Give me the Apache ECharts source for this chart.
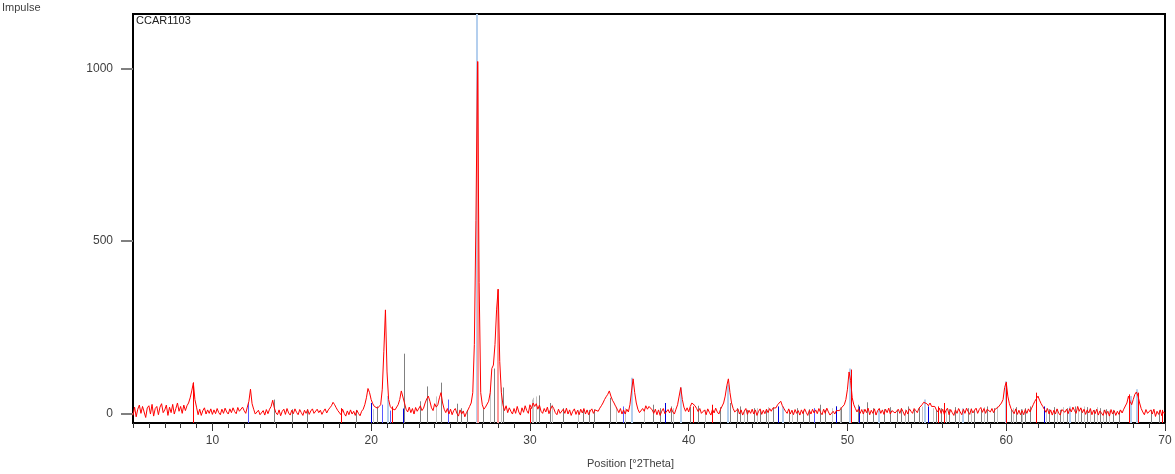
<!DOCTYPE html>
<html>
<head>
<meta charset="utf-8">
<script src="https://cdn.jsdelivr.net/npm/echarts@6/dist/echarts.min.js"></script>
<style>
html,body{margin:0;padding:0;background:#fff;}
#chart{width:1175px;height:474px;}
</style>
</head>
<body>
<div id="chart"></div>
<script>
// ---- data ----
const sampleName = 'CCAR1103';
const yAxisTitle = 'Impulse';
const xAxisTitle = 'Position [°2Theta]';
const xStart = 5.0;
const xStep = 0.1;
const xTickLabels = [10, 20, 30, 40, 50, 60, 70];
const yTickLabels = [0, 500, 1000];
// measured intensity, 5.0 .. 70.0 °2θ, step 0.1
const intensity = [
  -6, 18, -10, 12, 24, 0, 20, 4, -12, 16,
  22, -2, 26, -8, 14, 20, -4, 18, 28, 2,
  10, 24, -6, 18, 2, 26, -2, 14, 30, 6,
  20, 0, 24, 8, 22, 30, 45, 65, 88, 40,
  18, -4, 12, -6, 8, 16, -2, 10, 0, 13,
  -3, 10, -1, 14, 2, -4, 12, 0, 15, 4,
  -2, 13, 2, 16, 5, -1, 17, 6, 2, 18,
  8, 0, 18, 35, 70, 28, 12, -2, -4, 9,
  -4, -8, 8, -5, 11, -1, 12, 20, 38, 16,
  2, -4, 10, -7, 6, 12, -3, 14, 1, -5,
  9, -1, 13, 3, -4, 11, 2, -6, 9, 0,
  11, -3, 7, 13, 0, -5, 12, 2, 9, -3,
  6, 13, 1, 10, 16, 22, 32, 25, 16, 8,
  9, -4, 12, 0, -8, 7, -4, 10, -2, 6,
  -6, 9, 0, -7, 6, 12, 25, 45, 72, 60,
  40, 28, 20, 22, 15, 18, 25, 70, 180, 300,
  120, 40, 20, 14, 18, 10, 15, 25, 40, 65,
  65, 30, 12, 4, 18, 2, 14, -2, 17, 6,
  2, 22, 8, 15, 30, 42, 50, 35, 16, 8,
  28, 18, 25, 45, 60, 30, 12, 2, 14, -2,
  12, -4, 8, 14, 0, -8, 10, -2, 7, -10,
  2, 10, 20, 30, 60, 200, 560, 1020, 380, 60,
  25, 12, 18, 22, 35, 60, 130, 140, 200, 300,
  360, 150, 60, 25, 8, 22, 2, 16, 6, -2,
  14, 0, 20, 4, -5, 16, 3, 22, 8, 0,
  25, 14, 30, 20, 28, 12, 24, 6, 0, 14,
  4, 18, -1, 12, 22, 14, 2, -4, 12, 0,
  -4, 12, 0, 15, -2, 10, -6, 6, 13, -3,
  9, -4, 12, 1, 14, -2, 10, -4, 7, 13,
  0, 10, 12, 6, 15, 22, 30, 40, 48, 55,
  65, 50, 38, 30, 20, 12, 2, 14, -2, 10,
  -2, 12, 4, 25, 65, 100, 60, 30, 12, 2,
  0, 14, 6, 22, 12, 20, 25, 10, 0, 12,
  -4, 10, -6, 6, 14, -1, -5, 11, 1, 15,
  4, -2, 12, 25, 50, 75, 40, 18, 6, 16,
  4, 20, 30, 35, 22, 14, 5, 14, 0, -3,
  10, -4, 13, 3, -5, 12, 1, 15, 4, -2,
  11, 15, 30, 50, 80, 100, 60, 30, 14, 4,
  -1, 13, -2, 10, -5, 6, 14, -3, 9, 0,
  12, -2, 10, -6, 6, 13, -3, 9, -1, 12,
  2, 14, 6, 15, 20, 16, 25, 30, 35, 22,
  14, 6, 0, 13, -2, 9, -4, 11, 0, 8,
  -5, 10, -1, 13, 3, -6, 9, -2, 12, 1,
  10, -1, 14, 3, -4, 12, 0, 15, 4, -5,
  -6, 6, -2, 8, 12, 8, 15, 18, 25, 40,
  70, 120, 95, 45, 25, 14, 4, 13, 0, 11,
  -2, 12, 2, 15, -4, 9, 0, 13, -5, 8,
  14, 0, 10, -3, 12, 2, 15, -2, 8, 13,
  1, -4, 12, 0, 14, 5, -6, 9, -2, 13,
  6, 0, 14, 8, 2, 15, 20, 25, 32, 35,
  28, 22, 30, 20, 16, 20, 10, 4, 15, 0,
  12, -3, 8, 15, -4, 11, 2, -6, 10, 0,
  14, 4, -4, 12, 0, 15, 5, -3, 13, 1,
  9, 15, 0, 11, 17, 3, 14, 0, 12, 16,
  4, 14, 2, 12, 15, 18, 22, 30, 40, 75,
  90, 50, 28, 14, 6, -1, 13, -3, 9, -4,
  8, -4, 11, 0, 13, 4, 15, 25, 35, 40,
  50, 38, 28, 20, 12, 3, 14, -2, 10, -5,
  9, -2, 13, 1, -5, 11, 16, 3, 12, -1,
  14, 4, 18, 8, 0, 20, 6, 16, 2, 12,
  -3, 10, 1, 14, -4, 9, -1, 12, -5, 7,
  3, -6, 10, -3, 6, -8, 11, -2, 8, -6,
  6, -3, 10, 1, 12, 15, 30, 50, 35, 25,
  40, 55, 62, 50, 30, 14, 4, -4, 11, 0,
  -5, 10, -2, 12, -9, 6, -3, 10, -7, 4,
  0
];
// reference patterns: [position °2θ, height]
const sticksGray = [
  [13.9,40],[15.04,12],[15.94,12],[19.05,10],[20.35,20],[22.07,173],[23.08,35],[23.54,78],[24.38,89],
  [25.43,28],[25.66,15],[26.06,10],[27.07,12],[27.75,130],[27.95,230],[28.33,75],[30.57,52],[31.27,30],
  [32.1,15],[33.36,10],[33.7,10],[34.05,12],[35.04,45],[37.77,25],[38.19,15],[38.87,20],[40.08,18],
  [40.6,22],[42.0,18],[42.63,30],[43.06,15],[43.23,20],[43.7,10],[44.1,15],[44.5,8],[44.9,12],[45.3,18],
  [46.3,10],[46.8,15],[47.2,8],[47.6,12],[48.27,25],[48.6,10],[49.3,20],[49.6,15],[50.68,25],[51.25,32],
  [51.6,15],[51.9,10],[52.3,12],[52.7,18],[53.1,10],[53.4,15],[53.8,20],[54.2,12],[54.5,18],[55.6,10],
  [55.9,15],[56.4,12],[56.8,18],[57.6,15],[58.0,10],[58.4,12],[58.8,20],[59.2,15],[60.3,10],[60.6,18],
  [60.9,12],[61.2,15],[61.5,20],[62.7,12],[63.0,18],[63.4,10],[63.8,15],[64.3,20],[64.7,12],[65.1,18],
  [65.5,10],[65.9,15],[66.3,12],[66.7,10],[67.1,8],[69.1,10],[69.6,8]
];
const sticksLightGray = [
  [20.1,12],[24.09,49],[27.5,74],[28.2,75],[30.1,40],[30.2,45],[30.37,49],[31.4,25],[33.0,10],[35.4,20],
  [36.0,15],[37.2,12],[39.0,15],[41.0,10],[43.5,10],[44.3,15],[45.0,18],[46.5,8],[47.9,12],[49.0,15],
  [49.5,18],[51.0,12],[52.0,15],[53.6,12],[54.7,20],[55.4,15],[56.2,10],[57.0,12],[57.8,15],[58.6,18],
  [59.4,20],[60.4,15],[61.0,12],[62.5,15],[63.2,12],[63.6,18],[64.5,15],[64.9,20],[65.3,12],[65.7,18],
  [66.1,10],[66.5,8]
];
const sticksLightBlue = [
  [21.04,50],[26.65,1200],[36.45,103],[39.5,75],[42.5,83],[45.92,20],[50.16,130],[52.0,12],[54.88,40],
  [57.3,15],[59.96,93],[64.0,20],[67.85,50],[68.25,70]
];
const sticksBlue = [[12.27,30],[20.7,25],[21.19,8],[24.82,40],[35.88,20],[47.9,15]];
const sticksDarkBlue = [[19.99,30],[22.03,14],[38.5,30],[45.64,20],[49.27,20],[50.74,20],[55.05,20],[62.4,20]];
const sticksRed = [
  [8.8,90],[18.09,15],[21.3,20],[29.98,15],[40.29,20],[41.45,25],[50.2,127],[55.72,20],[56.1,30],
  [60.0,90],[61.85,60],[67.73,55],[68.3,60],[69.8,10]
];
const sticksPink = [[26.72,1020],[27.97,360]];

// ---- chart ----
const Y_MIN = -28, Y_MAX = 1158, X_MIN = 5, X_MAX = 70;
const FONT = 'Liberation Sans, Arial, sans-serif';
const traceData = intensity.map((v, i) => [+(xStart + i * xStep).toFixed(2), v]);

function stickSeries(data, color, width, z) {
  return {
    type: 'custom',
    xAxisIndex: 0, yAxisIndex: 0,
    data: data,
    z: z,
    clip: true,
    silent: true,
    renderItem: function (params, api) {
      const top = api.coord([api.value(0), api.value(1)]);
      const bot = api.coord([api.value(0), Y_MIN]);
      const x = Math.round(top[0]) + (width % 2 ? 0.5 : 0);
      return {
        type: 'line',
        shape: { x1: x, y1: top[1], x2: x, y2: bot[1] },
        style: { stroke: color, lineWidth: width }
      };
    }
  };
}

const chart = echarts.init(document.getElementById('chart'), null, { renderer: 'canvas' });
chart.setOption({
  animation: false,
  backgroundColor: '#fff',
  grid: { left: 133, right: 10, top: 14, bottom: 51, show: true, borderColor: '#000', borderWidth: 2, backgroundColor: 'transparent' },
  xAxis: [
    {
      type: 'value', min: X_MIN, max: X_MAX, position: 'bottom',
      axisLine: { show: true, onZero: false, lineStyle: { color: '#000', width: 2 } },
      axisTick: { show: true, length: 8, customValues: xTickLabels, lineStyle: { color: '#333', width: 1 } },
      axisLabel: { show: true, customValues: xTickLabels, margin: 12, color: '#404040', fontSize: 12, fontFamily: FONT, formatter: v => String(v) },
      splitLine: { show: false }
    },
    {
      type: 'value', min: X_MIN, max: X_MAX, interval: 1, position: 'bottom',
      axisLine: { show: false, onZero: false },
      axisTick: { show: true, length: 5, lineStyle: { color: '#333', width: 1 } },
      axisLabel: { show: false },
      splitLine: { show: false }
    }
  ],
  yAxis: [{
    type: 'value', min: Y_MIN, max: Y_MAX,
    axisLine: { show: true, onZero: false, lineStyle: { color: '#000', width: 2 } },
    axisTick: { show: true, length: 12, customValues: yTickLabels, lineStyle: { color: '#808080', width: 2 } },
    axisLabel: { show: true, customValues: yTickLabels, margin: 20, color: '#404040', fontSize: 12, fontFamily: FONT, formatter: v => String(v) },
    splitLine: { show: false }
  }],
  graphic: [
    { type: 'text', left: 2, top: 2, style: { text: yAxisTitle, fill: '#404040', font: '11px ' + FONT } },
    { type: 'text', left: 136, top: 15, z: 100, style: { text: sampleName, fill: '#202020', font: '11px ' + FONT } },
    { type: 'text', left: 587, top: 458, style: { text: xAxisTitle, fill: '#404040', font: '11px ' + FONT } }
  ],
  series: [
    stickSeries(sticksLightGray, '#c4c4c4', 1, 2),
    stickSeries(sticksGray, '#808080', 1, 3),
    stickSeries(sticksLightBlue, '#b4cfee', 2, 4),
    stickSeries(sticksPink, '#ff9a9a', 2, 4),
    stickSeries(sticksBlue, '#5a5aff', 1, 5),
    stickSeries(sticksDarkBlue, '#0000d8', 1, 5),
    stickSeries(sticksRed, '#ff0000', 1, 5),
    {
      type: 'line', xAxisIndex: 0, yAxisIndex: 0, data: traceData, showSymbol: false, z: 6,
      clip: true, silent: true,
      lineStyle: { color: '#ff0000', width: 1 }
    }
  ]
});
</script>
</body>
</html>
